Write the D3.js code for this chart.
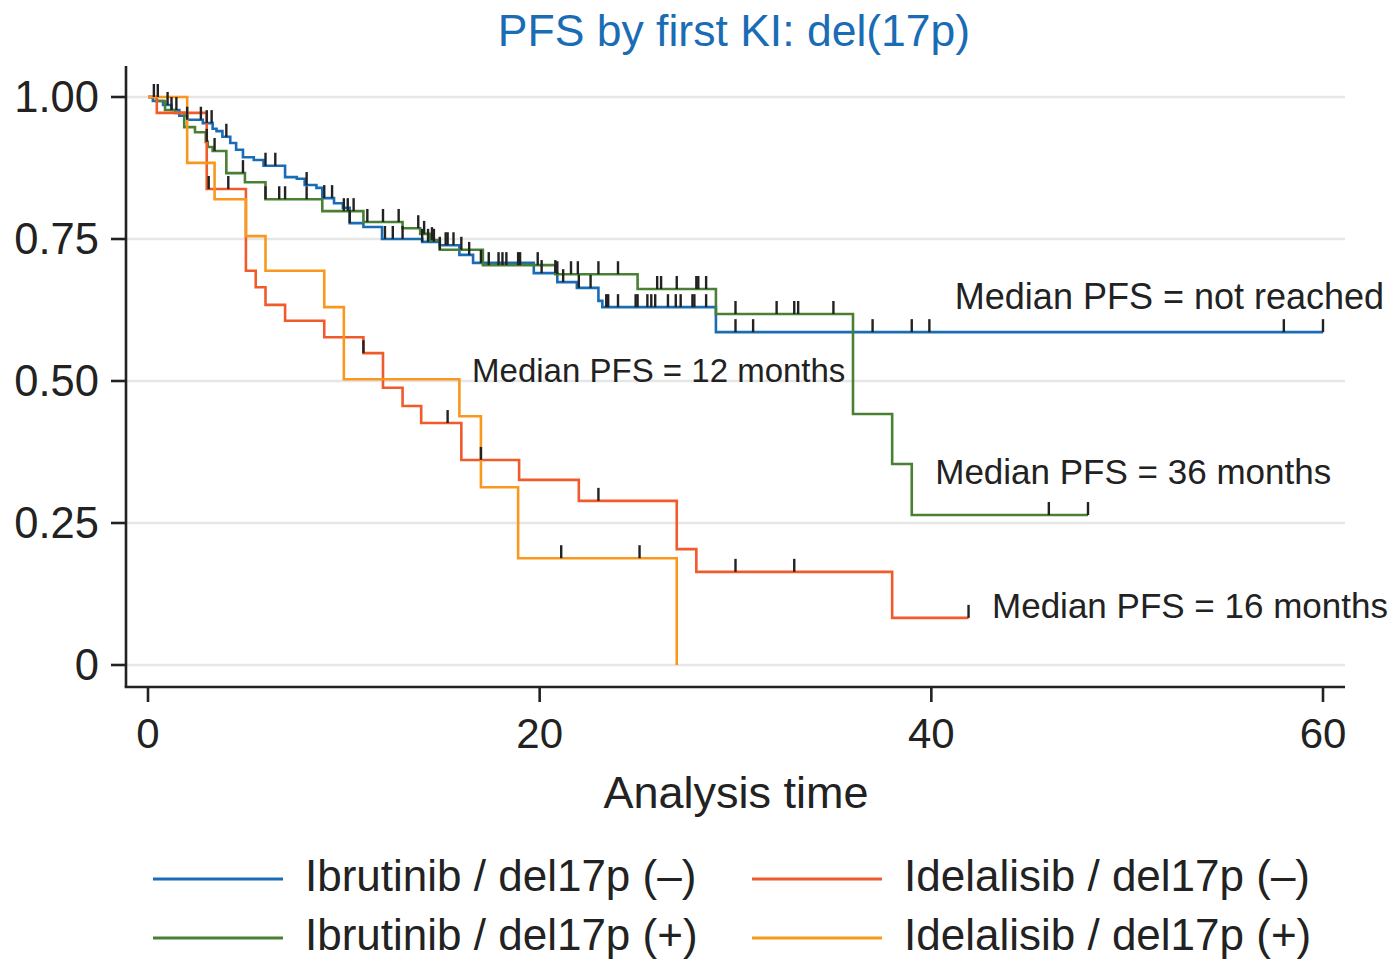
<!DOCTYPE html>
<html>
<head>
<meta charset="utf-8">
<script src="https://d3js.org/d3.v7.min.js"></script>
<style>
  body { margin: 0; background: #fff; }
  svg { font-family: "Liberation Sans", Arial, Helvetica, sans-serif; }
</style>
</head>
<body>
<svg id="km" width="1393" height="960"></svg>
<script>
// step times (months) and survival after each drop
let blueT = [0.25, 0.77, 1.2, 1.6, 2.0, 2.8, 3.3, 3.5, 3.8, 4.2, 4.5, 4.85, 5.4, 5.9, 7.0, 7.6, 8.0, 8.6, 8.9, 9.5, 9.95, 10.3, 11.0, 11.95, 14.0, 14.9, 15.9, 16.6, 19.7, 20.9, 21.9, 23.0, 23.2, 29.0]
let blueS = [0.993, 0.986, 0.977, 0.967, 0.960, 0.954, 0.944, 0.940, 0.930, 0.919, 0.907, 0.894, 0.889, 0.879, 0.859, 0.856, 0.845, 0.840, 0.822, 0.813, 0.805, 0.778, 0.771, 0.750, 0.745, 0.739, 0.722, 0.708, 0.690, 0.674, 0.664, 0.641, 0.630, 0.586]
let blueC = [1.0, 1.45, 2.0, 2.7, 3.0, 3.25, 4.0, 6.0, 6.5, 8.1, 9.0, 9.4, 10.3, 12.1, 12.5, 13.0, 14.0, 14.3, 14.6, 15.2, 15.3, 15.6, 16.4, 17.0, 20.1, 20.8, 21.2, 22.0, 22.6, 23.4, 23.5, 24.0, 24.9, 25.0, 25.5, 25.7, 25.9, 26.55, 26.95, 27.2, 27.8, 27.9, 28.5, 30.0, 30.9, 37.0, 39.0, 39.9, 58.0, 60.0]
let blueEnd = 60

let greenT = [0.45, 0.87, 1.4, 1.85, 2.4, 2.95, 3.05, 3.3, 4.0, 4.95, 6.0, 8.9, 11.0, 13.0, 13.9, 14.4, 14.9, 17.1, 20.8, 25.0, 29.0, 36.0, 38.0, 39.0]
let greenS = [0.993, 0.977, 0.972, 0.947, 0.938, 0.921, 0.912, 0.905, 0.866, 0.850, 0.820, 0.799, 0.780, 0.769, 0.759, 0.748, 0.731, 0.704, 0.688, 0.662, 0.618, 0.442, 0.354, 0.264]
let greenC = [1.2, 3.0, 3.4, 4.85, 6.0, 6.7, 7.0, 8.1, 10.0, 10.2, 10.5, 11.2, 12.0, 12.8, 13.8, 14.1, 14.5, 14.9, 16.0, 17.4, 17.9, 18.1, 18.3, 18.9, 19.0, 19.9, 20.9, 21.6, 21.95, 23.0, 24.0, 26.0, 26.2, 27.0, 28.0, 28.1, 28.5, 30.0, 32.1, 33.0, 33.2, 35.0, 46.0, 48.0]
let greenEnd = 48

let redT = [0.45, 3.0, 5.0, 5.5, 6.0, 7.0, 9.0, 11.0, 12.0, 13.0, 13.95, 16.0, 18.95, 22.0, 27.0, 28.0, 38.0]
let redS = [0.972, 0.838, 0.694, 0.665, 0.634, 0.606, 0.577, 0.549, 0.488, 0.456, 0.426, 0.361, 0.326, 0.289, 0.204, 0.164, 0.083]
let redC = [3.1, 4.1, 11.0, 15.3, 17.0, 23.0, 30.0, 33.0, 41.9]
let redEnd = 41.9

let orangeT = [2.0, 3.4, 5.0, 6.0, 9.0, 10.0, 15.9, 17.0, 18.9, 27.0]
let orangeS = [0.884, 0.820, 0.755, 0.694, 0.630, 0.503, 0.438, 0.313, 0.188, 0]
let orangeC = [0.3, 0.5, 21.1, 25.1]
let orangeEnd = 27

let names = ['Ibrutinib / del17p (\u2013)', 'Ibrutinib / del17p (+)', 'Idelalisib / del17p (\u2013)', 'Idelalisib / del17p (+)']
let colors = ['#1a6cb5', '#4a8034', '#f15a2b', '#f8981f']
let xTicks = [0, 20, 40, 60]
let yTicks = [0, 0.25, 0.5, 0.75, 1]
let yTickLabels = ['0', '0.25', '0.50', '0.75', '1.00']
let notes = [
    {text: 'Median PFS = not reached', t: 41.2, s: 0.626, size: 36},
    {text: 'Median PFS = 12 months', t: 16.55, s: 0.498, size: 33},
    {text: 'Median PFS = 36 months', t: 40.2, s: 0.319, size: 35},
    {text: 'Median PFS = 16 months', t: 43.1, s: 0.083, size: 35}
]

function main() {
    let svg = d3.select('#km')

    let x = d3.scaleLinear().domain([0, 60]).range([148, 1323]),
        y = d3.scaleLinear().domain([0, 1]).range([665, 97])

    let series = [
        {t: blueT, s: blueS, c: blueC, end: blueEnd},
        {t: greenT, s: greenS, c: greenC, end: greenEnd},
        {t: redT, s: redS, c: redC, end: redEnd},
        {t: orangeT, s: orangeS, c: orangeC, end: orangeEnd}
    ]

    svg.append('rect').attr('width', 1393).attr('height', 960).attr('fill', '#fff')

    // title
    svg.append('text')
        .attr('x', 734).attr('y', 46)
        .attr('text-anchor', 'middle')
        .attr('font-size', 44.5)
        .attr('fill', '#1a6cb5')
        .text('PFS by first KI: del(17p)')

    // grid
    svg.append('g').selectAll('line')
        .data(yTicks)
        .enter().append('line')
        .attr('x1', 126).attr('x2', 1345)
        .attr('y1', d => y(d)).attr('y2', d => y(d))
        .attr('stroke', '#e6e6e6').attr('stroke-width', 2.5)

    // step curves
    let line = d3.line().x(d => x(d[0])).y(d => y(d[1])).curve(d3.curveStepAfter)

    series.forEach((sr, i) => {
        let pts = [[0, 1]]
        sr.t.forEach((t, j) => pts.push([t, sr.s[j]]))
        pts.push([sr.end, sr.s[sr.s.length - 1]])
        svg.append('path')
            .attr('d', line(pts))
            .attr('fill', 'none')
            .attr('stroke', colors[i])
            .attr('stroke-width', 2.6)
    })

    // censor ticks
    series.forEach(sr => {
        let level = t => {
            let v = 1
            sr.t.forEach((tt, j) => { if (tt <= t) v = sr.s[j] })
            return v
        }
        svg.append('g').selectAll('line')
            .data(sr.c)
            .enter().append('line')
            .attr('x1', d => x(d)).attr('x2', d => x(d))
            .attr('y1', d => y(level(d))).attr('y2', d => y(level(d)) - 13)
            .attr('stroke', '#222').attr('stroke-width', 2.4)
    })

    // axes
    let ax = svg.append('g').attr('stroke', '#222').attr('stroke-width', 2.6)
    ax.append('line').attr('x1', 126).attr('x2', 126).attr('y1', 66).attr('y2', 687)
    ax.append('line').attr('x1', 124.7).attr('x2', 1345).attr('y1', 687).attr('y2', 687)
    ax.selectAll('.yt').data(yTicks).enter().append('line')
        .attr('x1', 111).attr('x2', 126)
        .attr('y1', d => y(d)).attr('y2', d => y(d))
    ax.selectAll('.xt').data(xTicks).enter().append('line')
        .attr('x1', d => x(d)).attr('x2', d => x(d))
        .attr('y1', 687).attr('y2', 702)

    svg.append('g').selectAll('text')
        .data(yTicks)
        .enter().append('text')
        .attr('x', 99).attr('y', d => y(d) + 15)
        .attr('text-anchor', 'end')
        .attr('font-size', 43.5)
        .attr('fill', '#222')
        .text((d, i) => yTickLabels[i])

    svg.append('g').selectAll('text')
        .data(xTicks)
        .enter().append('text')
        .attr('x', d => x(d)).attr('y', 748)
        .attr('text-anchor', 'middle')
        .attr('font-size', 42)
        .attr('fill', '#222')
        .text(d => d)

    svg.append('text')
        .attr('x', 736).attr('y', 808)
        .attr('text-anchor', 'middle')
        .attr('font-size', 45)
        .attr('fill', '#222')
        .text('Analysis time')

    // median annotations
    svg.append('g').selectAll('text')
        .data(notes)
        .enter().append('text')
        .attr('x', d => x(d.t)).attr('y', d => y(d.s))
        .attr('font-size', d => d.size)
        .attr('fill', '#222')
        .text(d => d.text)

    // legend
    let leg = svg.append('g')
    names.forEach((n, i) => {
        let lx = i < 2 ? 153 : 752,
            ly = i % 2 === 0 ? 879 : 938
        leg.append('line')
            .attr('x1', lx).attr('x2', lx + 130)
            .attr('y1', ly).attr('y2', ly)
            .attr('stroke', colors[i]).attr('stroke-width', 3)
        leg.append('text')
            .attr('x', lx + 152).attr('y', ly + 12)
            .attr('font-size', 44)
            .attr('fill', '#222')
            .text(n)
    })
}

main()
</script>
</body>
</html>
